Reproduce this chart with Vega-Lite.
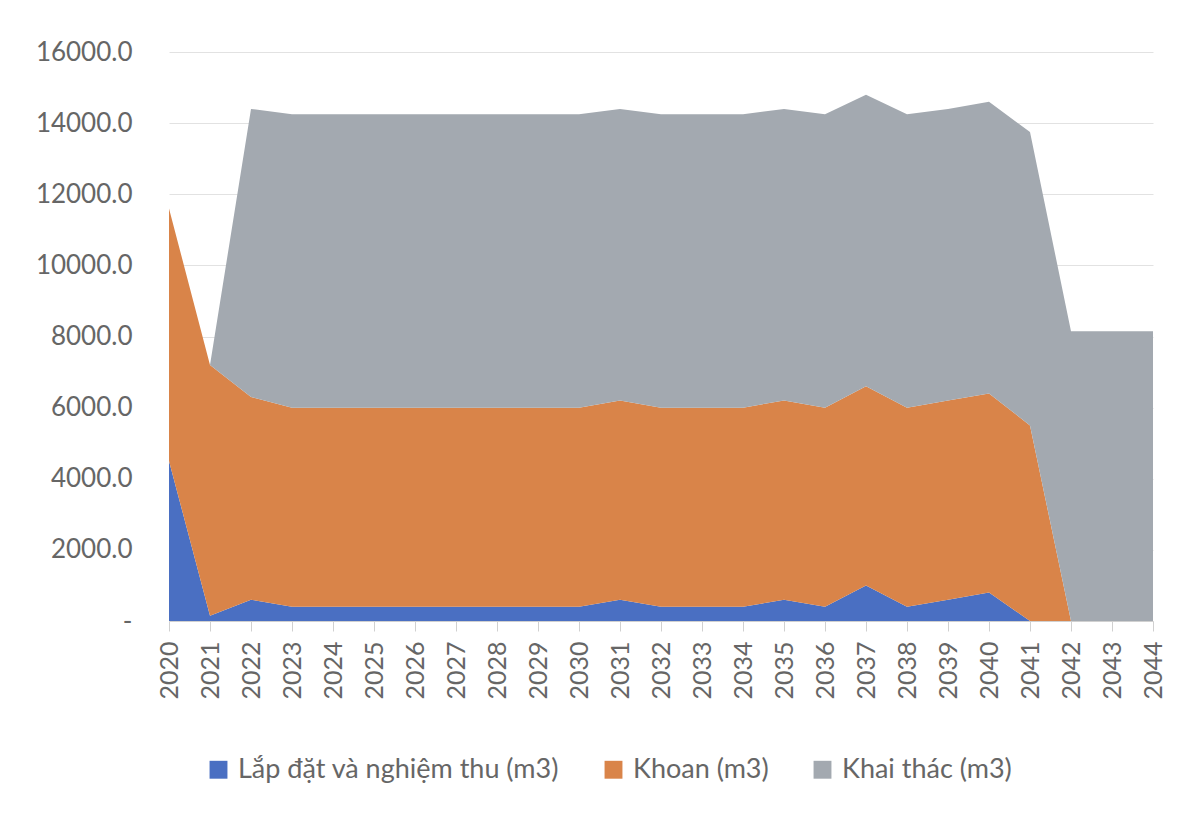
{
  "$schema": "https://vega.github.io/schema/vega-lite/v6.json",
  "autosize": "none",
  "width": 984,
  "height": 569,
  "padding": {"left": 169, "top": 52, "right": 39, "bottom": 200},
  "background": "white",
  "config": {"font": "Lato", "view": {"stroke": null}},
  "data": {"values": [
    {"year": 2020, "series": "Lắp đặt và nghiệm thu (m3)", "value": 4500},
    {"year": 2021, "series": "Lắp đặt và nghiệm thu (m3)", "value": 150},
    {"year": 2022, "series": "Lắp đặt và nghiệm thu (m3)", "value": 600},
    {"year": 2023, "series": "Lắp đặt và nghiệm thu (m3)", "value": 400},
    {"year": 2024, "series": "Lắp đặt và nghiệm thu (m3)", "value": 400},
    {"year": 2025, "series": "Lắp đặt và nghiệm thu (m3)", "value": 400},
    {"year": 2026, "series": "Lắp đặt và nghiệm thu (m3)", "value": 400},
    {"year": 2027, "series": "Lắp đặt và nghiệm thu (m3)", "value": 400},
    {"year": 2028, "series": "Lắp đặt và nghiệm thu (m3)", "value": 400},
    {"year": 2029, "series": "Lắp đặt và nghiệm thu (m3)", "value": 400},
    {"year": 2030, "series": "Lắp đặt và nghiệm thu (m3)", "value": 400},
    {"year": 2031, "series": "Lắp đặt và nghiệm thu (m3)", "value": 600},
    {"year": 2032, "series": "Lắp đặt và nghiệm thu (m3)", "value": 400},
    {"year": 2033, "series": "Lắp đặt và nghiệm thu (m3)", "value": 400},
    {"year": 2034, "series": "Lắp đặt và nghiệm thu (m3)", "value": 400},
    {"year": 2035, "series": "Lắp đặt và nghiệm thu (m3)", "value": 600},
    {"year": 2036, "series": "Lắp đặt và nghiệm thu (m3)", "value": 400},
    {"year": 2037, "series": "Lắp đặt và nghiệm thu (m3)", "value": 1000},
    {"year": 2038, "series": "Lắp đặt và nghiệm thu (m3)", "value": 400},
    {"year": 2039, "series": "Lắp đặt và nghiệm thu (m3)", "value": 600},
    {"year": 2040, "series": "Lắp đặt và nghiệm thu (m3)", "value": 800},
    {"year": 2041, "series": "Lắp đặt và nghiệm thu (m3)", "value": 0},
    {"year": 2042, "series": "Lắp đặt và nghiệm thu (m3)", "value": 0},
    {"year": 2043, "series": "Lắp đặt và nghiệm thu (m3)", "value": 0},
    {"year": 2044, "series": "Lắp đặt và nghiệm thu (m3)", "value": 0},
    {"year": 2020, "series": "Khoan (m3)", "value": 7100},
    {"year": 2021, "series": "Khoan (m3)", "value": 7050},
    {"year": 2022, "series": "Khoan (m3)", "value": 5700},
    {"year": 2023, "series": "Khoan (m3)", "value": 5600},
    {"year": 2024, "series": "Khoan (m3)", "value": 5600},
    {"year": 2025, "series": "Khoan (m3)", "value": 5600},
    {"year": 2026, "series": "Khoan (m3)", "value": 5600},
    {"year": 2027, "series": "Khoan (m3)", "value": 5600},
    {"year": 2028, "series": "Khoan (m3)", "value": 5600},
    {"year": 2029, "series": "Khoan (m3)", "value": 5600},
    {"year": 2030, "series": "Khoan (m3)", "value": 5600},
    {"year": 2031, "series": "Khoan (m3)", "value": 5600},
    {"year": 2032, "series": "Khoan (m3)", "value": 5600},
    {"year": 2033, "series": "Khoan (m3)", "value": 5600},
    {"year": 2034, "series": "Khoan (m3)", "value": 5600},
    {"year": 2035, "series": "Khoan (m3)", "value": 5600},
    {"year": 2036, "series": "Khoan (m3)", "value": 5600},
    {"year": 2037, "series": "Khoan (m3)", "value": 5600},
    {"year": 2038, "series": "Khoan (m3)", "value": 5600},
    {"year": 2039, "series": "Khoan (m3)", "value": 5600},
    {"year": 2040, "series": "Khoan (m3)", "value": 5600},
    {"year": 2041, "series": "Khoan (m3)", "value": 5500},
    {"year": 2042, "series": "Khoan (m3)", "value": 0},
    {"year": 2043, "series": "Khoan (m3)", "value": 0},
    {"year": 2044, "series": "Khoan (m3)", "value": 0},
    {"year": 2020, "series": "Khai thác (m3)", "value": 0},
    {"year": 2021, "series": "Khai thác (m3)", "value": 0},
    {"year": 2022, "series": "Khai thác (m3)", "value": 8100},
    {"year": 2023, "series": "Khai thác (m3)", "value": 8250},
    {"year": 2024, "series": "Khai thác (m3)", "value": 8250},
    {"year": 2025, "series": "Khai thác (m3)", "value": 8250},
    {"year": 2026, "series": "Khai thác (m3)", "value": 8250},
    {"year": 2027, "series": "Khai thác (m3)", "value": 8250},
    {"year": 2028, "series": "Khai thác (m3)", "value": 8250},
    {"year": 2029, "series": "Khai thác (m3)", "value": 8250},
    {"year": 2030, "series": "Khai thác (m3)", "value": 8250},
    {"year": 2031, "series": "Khai thác (m3)", "value": 8200},
    {"year": 2032, "series": "Khai thác (m3)", "value": 8250},
    {"year": 2033, "series": "Khai thác (m3)", "value": 8250},
    {"year": 2034, "series": "Khai thác (m3)", "value": 8250},
    {"year": 2035, "series": "Khai thác (m3)", "value": 8200},
    {"year": 2036, "series": "Khai thác (m3)", "value": 8250},
    {"year": 2037, "series": "Khai thác (m3)", "value": 8200},
    {"year": 2038, "series": "Khai thác (m3)", "value": 8250},
    {"year": 2039, "series": "Khai thác (m3)", "value": 8200},
    {"year": 2040, "series": "Khai thác (m3)", "value": 8200},
    {"year": 2041, "series": "Khai thác (m3)", "value": 8250},
    {"year": 2042, "series": "Khai thác (m3)", "value": 8150},
    {"year": 2043, "series": "Khai thác (m3)", "value": 8150},
    {"year": 2044, "series": "Khai thác (m3)", "value": 8150}
  ]},
  "mark": {"type": "area", "opacity": 1, "interpolate": "linear"},
  "encoding": {
    "x": {
      "field": "year", "type": "ordinal",
      "scale": {"type": "point", "padding": 0},
      "axis": {
        "title": null, "labelAngle": -90, "labelFontSize": 25, "labelColor": "#666666",
        "labelPadding": 10, "domainColor": "#d0d0d0", "tickColor": "#d0d0d0", "tickSize": 10,
        "grid": false, "labelFont": "Lato"
      }
    },
    "y": {
      "field": "value", "type": "quantitative", "stack": "zero",
      "scale": {"domain": [0, 16000], "nice": false},
      "axis": {
        "title": null, "values": [0, 2000, 4000, 6000, 8000, 10000, 12000, 14000, 16000],
        "labelExpr": "datum.value == 0 ? '-\u00a0\u00a0' : format(datum.value, '.1f')",
        "labelFontSize": 26, "labelColor": "#666666", "labelPadding": 37,
        "domain": false, "ticks": false, "gridColor": "#e2e2e2", "gridWidth": 1, "labelFont": "Lato"
      }
    },
    "color": {
      "field": "series", "type": "nominal",
      "scale": {
        "domain": ["Lắp đặt và nghiệm thu (m3)", "Khoan (m3)", "Khai thác (m3)"],
        "range": ["#4a6fc2", "#d98449", "#a3a9b0"]
      },
      "legend": {
        "title": null, "orient": "none", "direction": "horizontal",
        "legendX": 36, "legendY": 704, "symbolType": "square", "symbolSize": 320,
        "labelFontSize": 27, "labelColor": "#666666", "columnPadding": 40, "labelFont": "Lato",
        "symbolStrokeWidth": 0, "labelLimit": 600, "labelOffset": 6
      }
    },
    "order": {"field": "series", "sort": "descending"}
  }
}
